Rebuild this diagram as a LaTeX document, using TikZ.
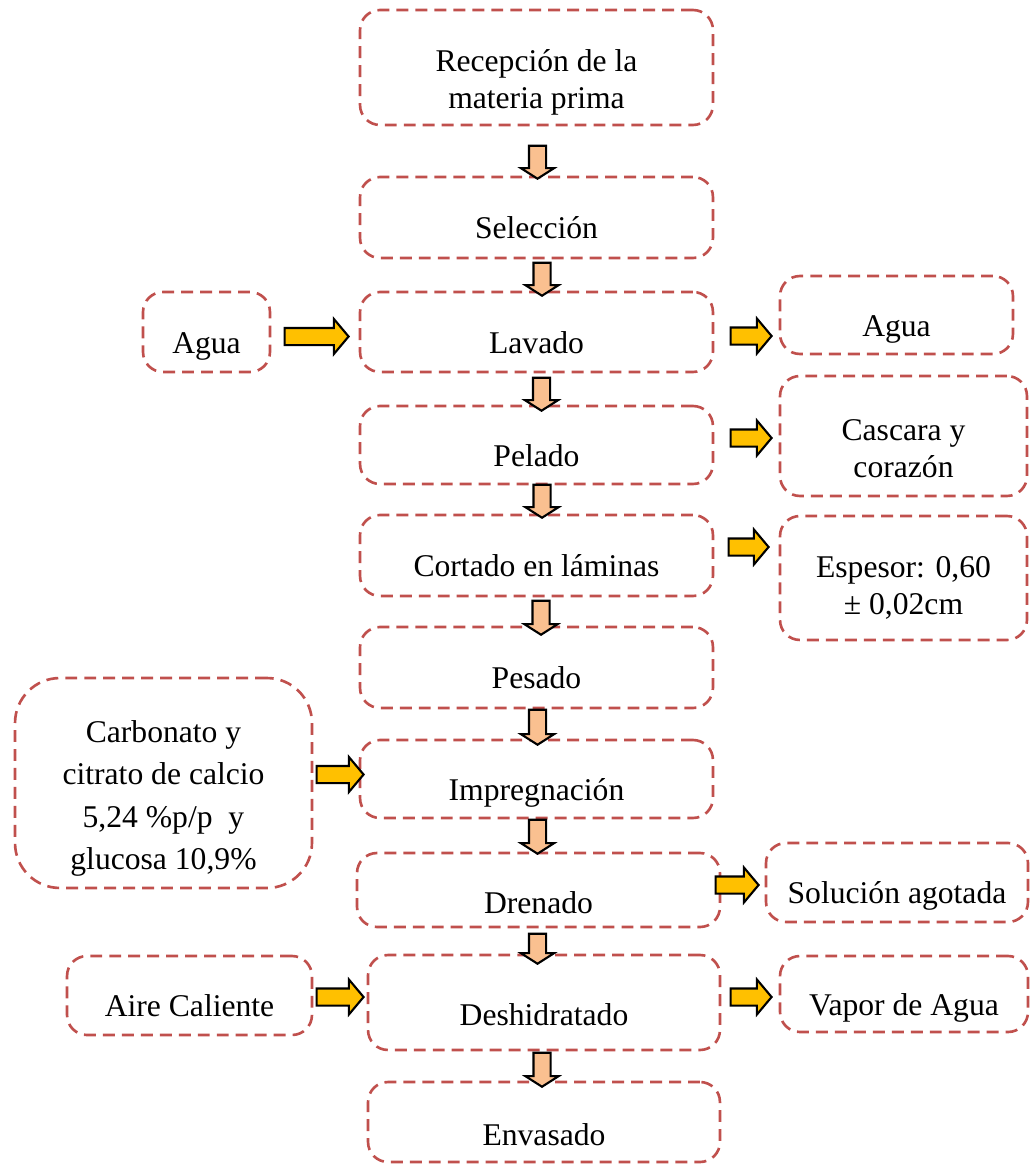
\documentclass[tikz,border=0pt]{standalone}
\usepackage{fontspec}
\setmainfont{Liberation Serif}
\usetikzlibrary{shapes.arrows, positioning}
\definecolor{boxred}{RGB}{192,80,77}
\definecolor{peach}{RGB}{250,192,144}
\definecolor{gold}{RGB}{255,192,0}
\tikzset{
box/.style={draw=boxred, line width=1.5pt, dash pattern=on 6.8pt off 4pt, rounded corners=0.4cm, inner sep=0pt}, % dashed process boxes
txt/.style={font=\fontsize{18}{21}\selectfont, align=center, text height=0.7em, text depth=0.2em, yshift=-0.34cm}, % one line of text
mtxt/.style={font=\fontsize{18}{21}\selectfont, align=center}, % several lines of text
darrow/.style={single arrow, draw=black, fill=peach, line width=1.2pt, inner sep=0.15cm, single arrow head extend=0.16cm, single arrow tip angle=115, shape border rotate=270, minimum height=0.66cm}, % down arrows
rarrow/.style={single arrow, draw=black, fill=gold, line width=1.2pt, inner sep=0.15cm, single arrow head extend=0.18cm, single arrow tip angle=100}, % side arrows
}
\begin{document}
\begin{tikzpicture}[x=0.02cm, y=-0.02cm]
    \useasboundingbox (0,0) rectangle (1031,1166);
    % main line
    \node[box, minimum width=7.06cm, minimum height=2.30cm, label={[mtxt, yshift=-0.30cm]center:{Recepción de la\\materia prima}}] (rec) at (536.5,67.5) {};
    \node[box, minimum width=7.06cm, minimum height=1.62cm, label={[txt]center:Selección}] (sel) at (536.5,217.5) {};
    \node[box, minimum width=7.06cm, minimum height=1.60cm, label={[txt]center:Lavado}] (lav) at (536.5,332) {};
    \node[box, minimum width=7.06cm, minimum height=1.56cm, label={[txt]center:Pelado}] (pel) at (536.5,445) {};
    \node[box, minimum width=7.06cm, minimum height=1.62cm, label={[txt]center:Cortado en láminas}] (cor) at (536.5,555.5) {};
    \node[box, minimum width=7.06cm, minimum height=1.62cm, label={[txt]center:Pesado}] (pes) at (536.5,667.5) {};
    \node[box, minimum width=7.06cm, minimum height=1.56cm, label={[txt]center:Impregnación}] (imp) at (536.5,779) {};
    \node[box, minimum width=7.26cm, minimum height=1.48cm, label={[txt, yshift=-0.04cm]center:Drenado}] (dren) at (538.5,890) {};
    \node[box, minimum width=7.04cm, minimum height=1.90cm, label={[txt, yshift=-0.04cm]center:Deshidratado}] (desh) at (544,1002.5) {};
    \node[box, minimum width=7.04cm, minimum height=1.60cm, label={[txt, yshift=-0.04cm]center:Envasado}] (env) at (544,1122) {};
    % inputs
    \node[box, minimum width=2.54cm, minimum height=1.60cm, label={[txt]center:Agua}] (aguain) at (206.5,332) {};
    \node[box, minimum width=5.94cm, minimum height=4.20cm, rounded corners=0.9cm, label={[mtxt, font=\fontsize{18}{24}\selectfont, yshift=-0.31cm]center:{Carbonato y\\citrato de calcio\\5,24 \%p/p\ \ y\\glucosa 10,9\%}}] (carb) at (163.5,783) {};
    \node[box, minimum width=4.90cm, minimum height=1.58cm, label={[txt]center:Aire Caliente}] (aire) at (189.5,995.5) {};
    % outputs
    \node[box, minimum width=4.66cm, minimum height=1.56cm, label={[txt]center:Agua}] (aguaout) at (896.5,315) {};
    \node[box, minimum width=4.94cm, minimum height=2.40cm, label={[mtxt, yshift=-0.26cm]center:{Cascara y\\corazón}}] (cas) at (903.5,436) {};
    \node[box, minimum width=4.94cm, minimum height=2.48cm, label={[mtxt, yshift=-0.20cm]center:{Espesor: 0,60\\± 0,02cm}}] (esp) at (903.5,578) {};
    \node[box, minimum width=5.24cm, minimum height=1.58cm, label={[txt]center:Solución agotada}] (sol) at (897,882.5) {};
    \node[box, minimum width=4.96cm, minimum height=1.52cm, label={[txt]center:Vapor de Agua}] (vap) at (904,994) {};
    % down arrows
    \node[darrow] (d1) at (537.5,159.5) {};
    \node[darrow] (d2) at (542,276.5) {};
    \node[darrow] (d3) at (541.5,391.5) {};
    \node[darrow] (d4) at (542,498.5) {};
    \node[darrow, minimum height=0.68cm] (d5) at (541,615) {};
    \node[darrow, minimum height=0.70cm] (d6) at (537.5,724.5) {};
    \node[darrow, minimum height=0.68cm] (d7) at (537.5,834) {};
    \node[darrow, minimum height=0.60cm] (d8) at (537.5,946) {};
    \node[darrow, minimum height=0.68cm] (d9) at (542,1067) {};
    % side arrows
    \node[rarrow, minimum height=1.28cm] (r1) at (313,336.5) {};
    \node[rarrow, minimum height=0.82cm] (r2) at (747.5,336) {};
    \node[rarrow, minimum height=0.82cm] (r3) at (747.5,438) {};
    \node[rarrow, minimum height=0.80cm] (r4) at (745,547) {};
    \node[rarrow, minimum height=0.94cm] (r5) at (336.5,774.5) {};
    \node[rarrow, minimum height=0.86cm] (r6) at (733.5,885) {};
    \node[rarrow, minimum height=0.94cm] (r7) at (336.5,997) {};
    \node[rarrow, minimum height=0.82cm] (r8) at (747.5,997) {};
\end{tikzpicture}
\end{document}
